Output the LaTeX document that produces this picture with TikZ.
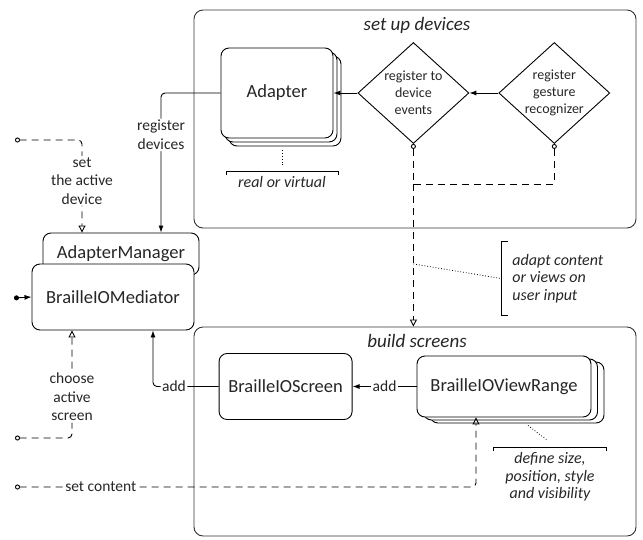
\documentclass[tikz,border=0pt]{standalone}
\usepackage{fontspec}
\setmainfont{Carlito}
\usetikzlibrary{arrows.meta,positioning,shapes.geometric,shadows,calc}

\begin{document}
\begin{tikzpicture}[
    x=1pt, y=-1pt,
    >={Latex[length=7pt,width=5pt]},
    line width=0.9pt,
    every node/.style={text=black!85},
    area/.style={
        draw=black!80,
        rounded corners=9pt,
        line width=0.9pt
    },
    area title/.style={font=\fontsize{19}{22}\selectfont\itshape},
    box/.style={
        draw,
        fill=white,
        rounded corners=8pt,
        font=\fontsize{18.5}{22}\selectfont,
        align=center
    },
    decision/.style={
        diamond,
        draw,
        aspect=1.1,
        inner sep=0pt,
        minimum width=111pt,
        minimum height=101pt,
        font=\fontsize{14}{17}\selectfont,
        align=center
    },
    lbl/.style={fill=white, inner sep=1.5pt, font=\fontsize{15.5}{18.5}\selectfont, align=center},
    note/.style={font=\fontsize{16}{17.5}\selectfont\itshape, align=center},
    flow/.style={->, rounded corners=4pt},
    call/.style={
        dash pattern=on 7pt off 5pt,
        rounded corners=4pt,
        {Circle[open,length=5pt]}-{Triangle[open,length=7pt,width=7pt]}
    },
    bracket/.style={line width=0.8pt},
    hint/.style={dotted, line width=0.8pt}
]
\useasboundingbox (0,0) rectangle (643,539);

% Areas
\node[area, minimum width=442pt, minimum height=218pt] (setup) at (415,119) {};
\node[area title] (setuptitle) at (417,25) {set up devices};
\node[area, minimum width=442pt, minimum height=209pt] (build) at (415,431.5) {};
\node[area title] (buildtitle) at (417,341) {build screens};

% Nodes
\node[box, double copy shadow={shadow xshift=4pt, shadow yshift=-4pt},
      minimum width=112pt, minimum height=90pt] (adapter) at (277,93) {Adapter};
\node[decision, right=24pt of adapter] (devevents) {register to\\device\\events};
\node[decision, right=29pt of devevents] (gesture) {register\\gesture\\recognizer};

\node[box, minimum width=156pt, minimum height=42pt] (manager) at (121,254) {AdapterManager};
\node[box, minimum width=162pt, minimum height=66pt] (mediator) at (113,297) {BrailleIOMediator};

\node[box, double copy shadow={shadow xshift=6.5pt, shadow yshift=-3pt},
      minimum width=174pt, minimum height=61pt] (viewrange) at (504,386.5) {BrailleIOViewRange};
\node[box, minimum width=133pt, minimum height=66pt, left=64pt of viewrange] (screen) {BrailleIOScreen};

% Notes
\node[note, anchor=north, minimum width=111pt, inner ysep=5pt] (real) at (282,171) {real or virtual};
\node[note, anchor=west, align=left, inner xsep=0pt, minimum height=73pt] (adapt) at (512,278.5)
    {adapt content\\or views on\\user input};
\node[note, anchor=north, minimum width=112pt, inner ysep=5pt] (define) at (550,447)
    {define size,\\position, style\\and visibility};

% Free ends
\coordinate (devsrc)  at (15,140);
\coordinate (medsrc)  at (14,298);
\coordinate (scrsrc)  at (15,438);
\coordinate (contsrc) at (15,487);

% Arrows
\draw[flow] (gesture) -- (devevents);
\draw[flow] (devevents) -- (adapter);
\draw[flow] (adapter.west) -| node[lbl, pos=0.65] {register\\devices} ([xshift=40pt]manager.north);
\draw[call] (devsrc) -| node[lbl, pos=0.72] {set\\the active\\device} ([xshift=-39pt]manager.north);
\draw[{Circle[length=5pt]}->] (medsrc) -- (mediator.west);
\draw[call] (scrsrc) -| node[lbl, pos=0.69] {choose\\active\\screen} ([xshift=-41pt]mediator.south);
\draw[flow] (screen.west) -| node[lbl, pos=0.34] {add} ([xshift=40pt]mediator.south);
\draw[flow] (viewrange) -- node[lbl] {add} (screen);
\draw[call] (contsrc) -| node[lbl, pos=0.093] {set content} ([xshift=-28pt]viewrange.south);

% Events
\draw[dash pattern=on 7pt off 5pt, {Circle[open,length=5pt]}-{Circle[open,length=5pt]}]
    (devevents.south) -- ++(0,40) coordinate (evt) -| (gesture.south);
\draw[dash pattern=on 7pt off 5pt, -{Triangle[open,length=7pt,width=7pt]}] (evt) -- (evt |- build.north);

% Brackets and hints
\draw[bracket] ([yshift=-4pt]real.north west) -- (real.north west) -- (real.north east) -- ([yshift=-4pt]real.north east);
\draw[hint] ($(adapter.south -| real.north)+(0,12)$) -- ($(real.north)+(0,-6)$);
\draw[bracket] ([xshift=-4pt]adapt.north west) -- ([xshift=-11pt]adapt.north west)
    -- ([xshift=-11pt]adapt.south west) -- ([xshift=-4pt]adapt.south west);
\draw[hint] ($(evt)+(0,80)$) -- ([xshift=-11pt]adapt.west);
\draw[bracket] ([yshift=-4pt]define.north west) -- (define.north west) -- (define.north east) -- ([yshift=-4pt]define.north east);
\draw[hint] ($(viewrange.south)+(24,8)$) -- ($(define.north)+(-3,-7)$);

\end{tikzpicture}
\end{document}
